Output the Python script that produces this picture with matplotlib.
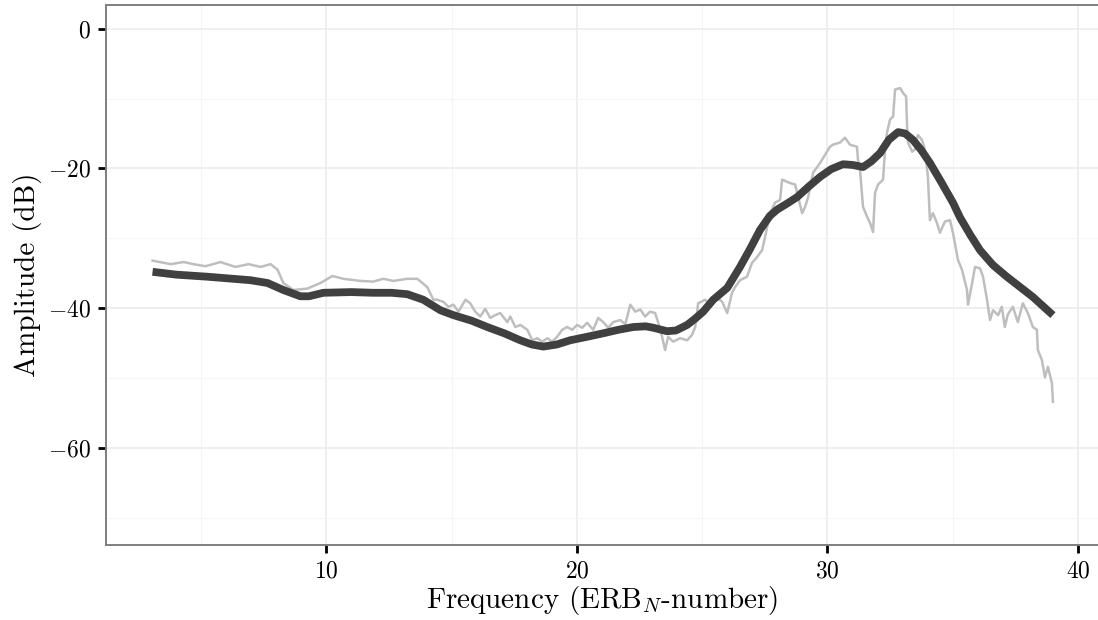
import matplotlib
matplotlib.use('Agg')
import matplotlib.pyplot as plt
from matplotlib.ticker import MultipleLocator

plt.rcParams['font.family'] = 'serif'
plt.rcParams['font.serif'] = ['cmr10']
plt.rcParams['mathtext.fontset'] = 'cm'
plt.rcParams['axes.formatter.use_mathtext'] = True

# raw spectrum (grey), (ERB number, dB)
raw_low = [(3.06, -33.2), (3.78, -33.7), (4.30, -33.4), (4.69, -33.7), (5.17, -34.0),
           (5.77, -33.4), (6.37, -34.1), (6.89, -33.7), (7.37, -34.1), (7.77, -33.7),
           (8.05, -34.5), (8.28, -36.4), (8.68, -37.4), (9.24, -37.2), (9.76, -36.4),
           (10.24, -35.4), (10.68, -35.8), (11.36, -36.1), (11.87, -36.2), (12.27, -35.8),
           (12.67, -36.1), (13.23, -35.8), (13.63, -35.8), (14.03, -37.0), (14.27, -38.8)]
raw_mid = [(14.43, -38.8), (14.67, -39.1), (14.87, -39.8), (15.07, -39.5), (15.27, -40.5),
           (15.55, -38.8), (15.74, -39.3), (15.94, -40.5), (16.14, -41.2), (16.34, -40.1),
           (16.54, -41.4), (16.74, -41.0), (16.94, -40.7), (17.22, -42.0), (17.34, -41.2),
           (17.54, -42.7), (17.74, -42.4), (18.02, -43.1), (18.22, -44.6), (18.42, -44.3),
           (18.62, -44.8), (18.82, -44.3), (19.01, -44.8), (19.21, -44.1), (19.41, -43.1),
           (19.61, -42.7), (19.81, -43.1), (20.01, -42.4), (20.21, -42.8), (20.41, -42.1),
           (20.65, -43.1), (20.85, -41.4), (21.05, -42.0), (21.25, -42.8), (21.45, -42.0),
           (21.73, -41.7), (21.93, -42.3), (22.13, -39.5), (22.33, -40.5), (22.53, -40.2),
           (22.72, -41.2), (22.92, -40.5), (23.12, -40.7), (23.24, -42.0), (23.40, -44.1),
           (23.52, -46.0), (23.64, -44.1), (23.84, -44.8), (24.12, -44.3), (24.40, -44.6),
           (24.60, -43.8), (24.72, -42.7), (24.84, -39.3), (25.12, -38.8), (25.32, -39.5),
           (25.60, -38.5), (25.80, -39.1), (26.00, -40.7), (26.19, -37.8), (26.31, -37.0),
           (26.51, -36.0), (26.79, -35.5)]
raw_high = [(26.99, -33.5), (27.19, -32.7), (27.39, -31.7), (27.51, -29.8), (27.71, -26.4),
            (27.91, -24.9), (28.11, -24.5), (28.19, -21.6), (28.51, -22.1), (28.71, -22.3),
            (28.83, -24.1), (28.99, -26.4), (29.11, -25.5), (29.23, -24.1), (29.43, -20.6),
            (29.71, -19.2), (30.10, -16.9), (30.22, -16.6), (30.50, -16.3), (30.70, -15.6),
            (30.90, -16.6), (31.18, -16.9), (31.22, -18.8), (31.30, -20.2), (31.42, -25.5),
            (31.58, -26.9), (31.70, -27.8), (31.82, -29.1), (31.90, -23.5), (32.02, -22.3),
            (32.22, -21.6), (32.30, -17.3), (32.38, -14.8), (32.50, -13.0), (32.62, -12.6),
            (32.70, -8.7), (32.90, -8.5), (33.02, -9.2), (33.14, -9.7), (33.18, -14.0),
            (33.22, -16.3), (33.38, -17.6), (33.49, -17.3), (33.61, -15.2), (33.77, -15.9),
            (33.89, -17.3), (34.01, -21.2), (34.09, -27.4), (34.21, -26.4), (34.37, -27.8),
            (34.49, -29.2), (34.69, -27.6), (34.89, -27.4), (35.01, -29.2), (35.21, -33.1),
            (35.37, -34.5), (35.57, -37.4), (35.61, -39.5), (35.77, -36.5), (35.89, -34.1),
            (36.09, -34.3), (36.21, -35.5), (36.37, -38.8), (36.49, -41.7), (36.61, -40.3),
            (36.81, -41.0), (36.96, -39.8), (37.08, -42.7), (37.20, -40.9), (37.40, -39.8),
            (37.60, -42.0), (37.80, -39.3), (38.00, -40.7), (38.20, -42.7), (38.36, -43.1),
            (38.40, -46.0), (38.56, -47.4), (38.68, -49.9), (38.80, -48.4), (38.96, -50.7),
            (39.00, -53.4)]

# smoothed curve (dark)
smooth = [(3.06, -34.8), (4.00, -35.2), (5.25, -35.5), (6.97, -36.0), (7.65, -36.4),
          (8.28, -37.4), (8.96, -38.3), (9.30, -38.3), (9.88, -37.8), (11.00, -37.7),
          (11.87, -37.8), (12.60, -37.8), (13.23, -38.0), (13.87, -38.8), (14.55, -40.3),
          (15.07, -41.0), (15.80, -41.8), (16.42, -42.7), (17.10, -43.6), (17.74, -44.6),
          (18.20, -45.2), (18.66, -45.5), (19.20, -45.2), (19.73, -44.6), (20.40, -44.1),
          (21.05, -43.6), (21.65, -43.1), (22.25, -42.7), (22.75, -42.6), (23.04, -42.8),
          (23.60, -43.3), (23.95, -43.2), (24.40, -42.4), (24.72, -41.5), (25.04, -40.5),
          (25.44, -38.8), (26.00, -37.1), (26.51, -34.1), (26.90, -31.6), (27.31, -28.8),
          (27.70, -26.8), (27.99, -25.9), (28.40, -25.0), (28.79, -24.1), (29.25, -22.6),
          (29.71, -21.2), (30.15, -20.1), (30.62, -19.4), (31.00, -19.5), (31.42, -19.8),
          (31.75, -19.0), (32.10, -17.8), (32.45, -15.9), (32.82, -14.8), (33.10, -15.0),
          (33.41, -15.9), (33.75, -17.4), (34.09, -19.2), (34.55, -22.0), (35.01, -24.9),
          (35.29, -27.0), (35.70, -29.5), (36.09, -31.7), (36.60, -33.8), (37.16, -35.5),
          (37.70, -37.0), (38.20, -38.4), (38.60, -39.7), (39.00, -41.0)]

raw_x, raw_y = zip(*(raw_low + raw_mid + raw_high))
sm_x, sm_y = zip(*smooth)

fig = plt.figure(figsize=(10.98, 6.2), dpi=100)
ax = fig.add_axes([0.0965, 0.121, 0.9035, 0.871])

ax.plot(raw_x, raw_y, color='#bebebe', lw=1.8, solid_joinstyle='round', zorder=3)
ax.plot(sm_x, sm_y, color='#404040', lw=5.6, solid_capstyle='butt',
        solid_joinstyle='round', zorder=4)

ax.set_xlim(1.2, 40.8)
ax.set_ylim(-73.9, 3.4)
ax.xaxis.set_major_locator(MultipleLocator(10))
ax.xaxis.set_minor_locator(MultipleLocator(5))
ax.yaxis.set_major_locator(MultipleLocator(20))
ax.yaxis.set_minor_locator(MultipleLocator(10))
ax.grid(which='major', color='#ebebeb', lw=1.1, zorder=0)
ax.grid(which='minor', color='#f5f5f5', lw=0.8, zorder=0)
ax.set_axisbelow(True)

for side in ['left', 'bottom', 'top']:
    ax.spines[side].set_color('#7f7f7f')
    ax.spines[side].set_linewidth(1.4)
ax.spines['right'].set_visible(False)

ax.tick_params(which='major', length=6, width=2, color='black', labelsize=17, pad=5)
ax.tick_params(which='minor', length=0)

ax.set_xlabel('Frequency (ERB$_N$-number)', fontsize=21, labelpad=1)
ax.set_ylabel('Amplitude (dB)', fontsize=21, labelpad=4)

fig.savefig('out.png', dpi=100)
